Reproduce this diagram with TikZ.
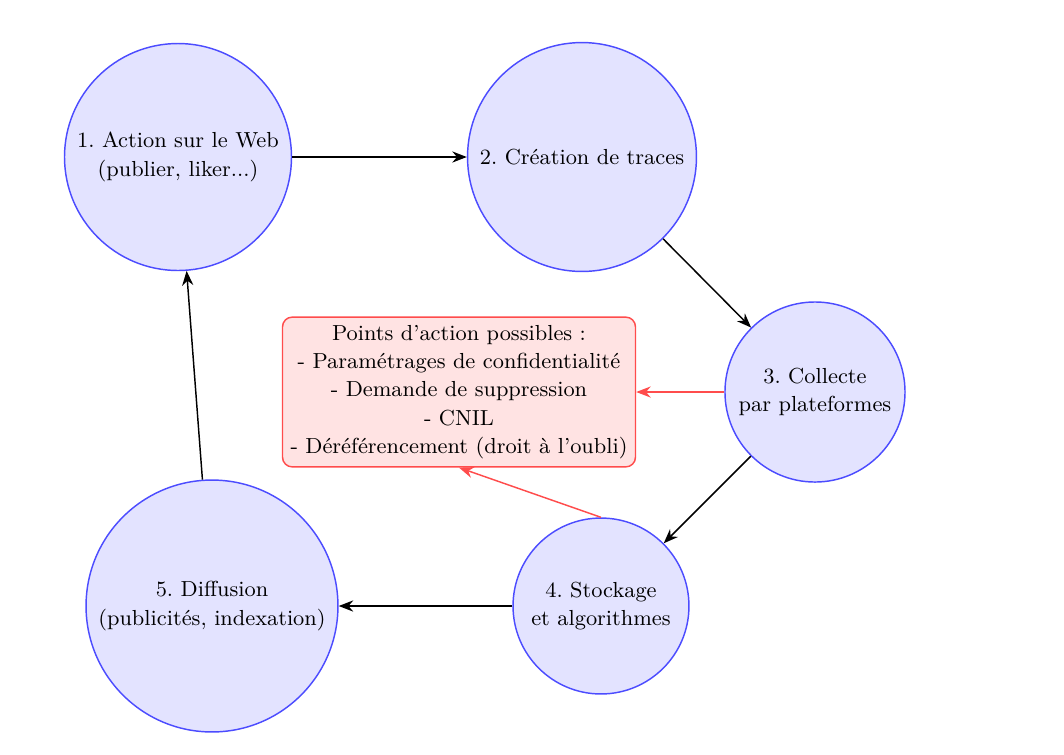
\documentclass[tikz,border=0pt]{standalone}
\usetikzlibrary{arrows.meta}
\frenchspacing
\begin{document}
\begin{tikzpicture}[x=0.41322pt,y=-0.41322pt,
  every node/.style={font=\fontsize{9}{11.7}\selectfont},
  stage/.style={circle, draw=blue!70, fill=blue!11, line width=0.6pt, align=center, inner sep=0pt},
  actbox/.style={rectangle, rounded corners=4pt, draw=red!70, fill=red!11, line width=0.6pt, align=center, inner sep=3.3pt},
  flow/.style={-{Stealth[length=6pt,width=4.6pt]}, line width=0.6pt},
  redflow/.style={-{Stealth[length=6pt,width=4.6pt]}, draw=red!70, line width=0.6pt}]
\useasboundingbox (0,0) rectangle (1064,754);
\node[stage, minimum size=93.8pt] (c1) at (178,157) {1. Action sur le Web\\(publier, liker...)};
\node[stage, minimum size=94.6pt] (c2) at (582,157) {2. Création de traces};
\node[stage, minimum size=74.4pt] (c3) at (815,392) {3. Collecte\\par plateformes};
\node[stage, minimum size=72.7pt] (c4) at (601,606) {4. Stockage\\et algorithmes};
\node[stage, minimum size=104.1pt] (c5) at (212,606) {5. Diffusion\\(publicités, indexation)};
\node[actbox] (pa) at (459,392) {Points d'action possibles :\\- Paramétrages de confidentialité\\- Demande de suppression\\- CNIL\\- Déréférencement (droit à l'oubli)};
\draw[flow] (c1) -- (c2);
\draw[flow] (c2) -- (c3);
\draw[flow] (c3) -- (c4);
\draw[flow, line width=0.8pt] (c4) -- (c5);
\draw[flow] (c5) -- (c1);
\draw[redflow] (c3) -- (pa);
\draw[redflow] (c4.north) -- (pa.south);
\end{tikzpicture}
\end{document}
